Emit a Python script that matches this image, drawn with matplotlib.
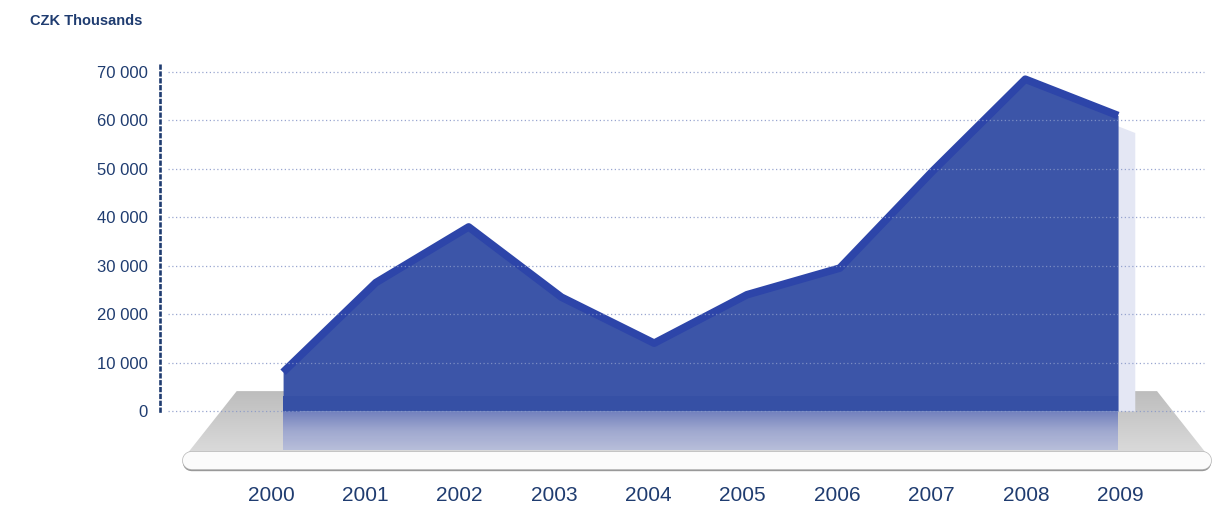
import numpy as np
import matplotlib
matplotlib.use("Agg")
import matplotlib.pyplot as plt
from matplotlib.patches import Polygon
import matplotlib.patheffects as pe

plt.rcParams['font.family'] = ['Liberation Sans', 'DejaVu Sans']

years = ["2000", "2001", "2002", "2003", "2004", "2005", "2006", "2007", "2008", "2009"]
values = [8000, 26500, 38000, 23500, 14000, 24000, 29500, 49500, 68500, 61000]
y_ticks = [0, 10000, 20000, 30000, 40000, 50000, 60000, 70000]

NAVY = "#1f3c70"
FACE = "#3c55a8"
TOP = "#2d45a9"

fig = plt.figure(figsize=(12.19, 5.16), dpi=100)
ax = fig.add_axes([0.1313, 0.0795, 0.863, 0.8004])
x = np.arange(len(values))
ax.set_xlim(-1.326, 10.013)
ax.set_ylim(-13215, 72063)

for s in ["top", "right", "bottom"]:
    ax.spines[s].set_visible(False)
ax.spines["left"].set_bounds(0, 72063)
ax.spines["left"].set_color(NAVY)
ax.spines["left"].set_linestyle((0, (1, 1.6)))
ax.spines["left"].set_linewidth(1.9)

# grid
for v in y_ticks:
    ax.axhline(v, xmin=0.008, xmax=0.992, color="#8797c8", lw=0.9,
               ls=(0, (1, 2)), zorder=6, alpha=0.85)

# platform
x0, x1 = x[0], x[-1]
top_y, bot_y = 4100, -8500
plat = Polygon([(x0 - 0.5, top_y), (x1 + 0.42, top_y), (x1 + 0.94, bot_y), (x0 - 1.02, bot_y)],
               closed=True, facecolor="none", edgecolor="none", zorder=1)
ax.add_patch(plat)
grad = np.linspace(0, 1, 100).reshape(-1, 1)
cm_p = matplotlib.colors.LinearSegmentedColormap.from_list("g", ["#bdbdbd", "#cbcbcb", "#dadada"])
im = ax.imshow(grad, extent=[x0 - 1.1, x1 + 1.0, bot_y, top_y], origin="upper",
               cmap=cm_p, aspect="auto", zorder=1)
im.set_clip_path(plat)

# rim of platform
ax.plot([x0 - 0.99, x1 + 0.91], [-10100, -10100], color="#fbfbfb", lw=12.5,
        solid_capstyle="round", zorder=2,
        path_effects=[pe.SimpleLineShadow(offset=(0, -1.5), shadow_color="#555555", alpha=0.6),
                      pe.Stroke(linewidth=13.5, foreground="#b5b5b5"), pe.Normal()])

# reflection of area on platform
refl = np.linspace(0, 1, 100).reshape(-1, 1)
cm_r = matplotlib.colors.LinearSegmentedColormap.from_list("r", ["#6878bd", "#9aa4cf", "#b4bbdb"])
ax.imshow(refl, extent=[x0, x1, -8000, 0], origin="upper", cmap=cm_r,
          aspect="auto", zorder=2, alpha=0.9)

# soft shadow to the right
ax.fill_between(x + 0.18, 0, np.array(values) - 3500, color="#e4e7f4", lw=0, zorder=2)

# area
ax.fill_between(x, 0, values, color=FACE, lw=0, zorder=3)
ax.plot(x, values, color=TOP, lw=5.5, solid_joinstyle="round", solid_capstyle="butt", zorder=4)
ax.fill_between(x, 0, 3000, color="#3650a5", lw=0, zorder=3)

# ticks
ax.set_yticks(y_ticks)
ax.set_yticklabels([f"{v:,}".replace(",", " ") for v in y_ticks])
ax.tick_params(axis="y", length=0, pad=9, labelsize=12, labelcolor=NAVY)
ax.set_xticks(x * 1.017 - 0.13)
ax.set_xticklabels(years)
ax.tick_params(axis="x", length=0, pad=8, labelsize=15, labelcolor=NAVY)

fig.text(30 / 1219, 1 - 21 / 516, "CZK Thousands", fontsize=10.5, fontweight="bold",
         color=NAVY, va="center", ha="left")

fig.savefig("out.png", dpi=100)
